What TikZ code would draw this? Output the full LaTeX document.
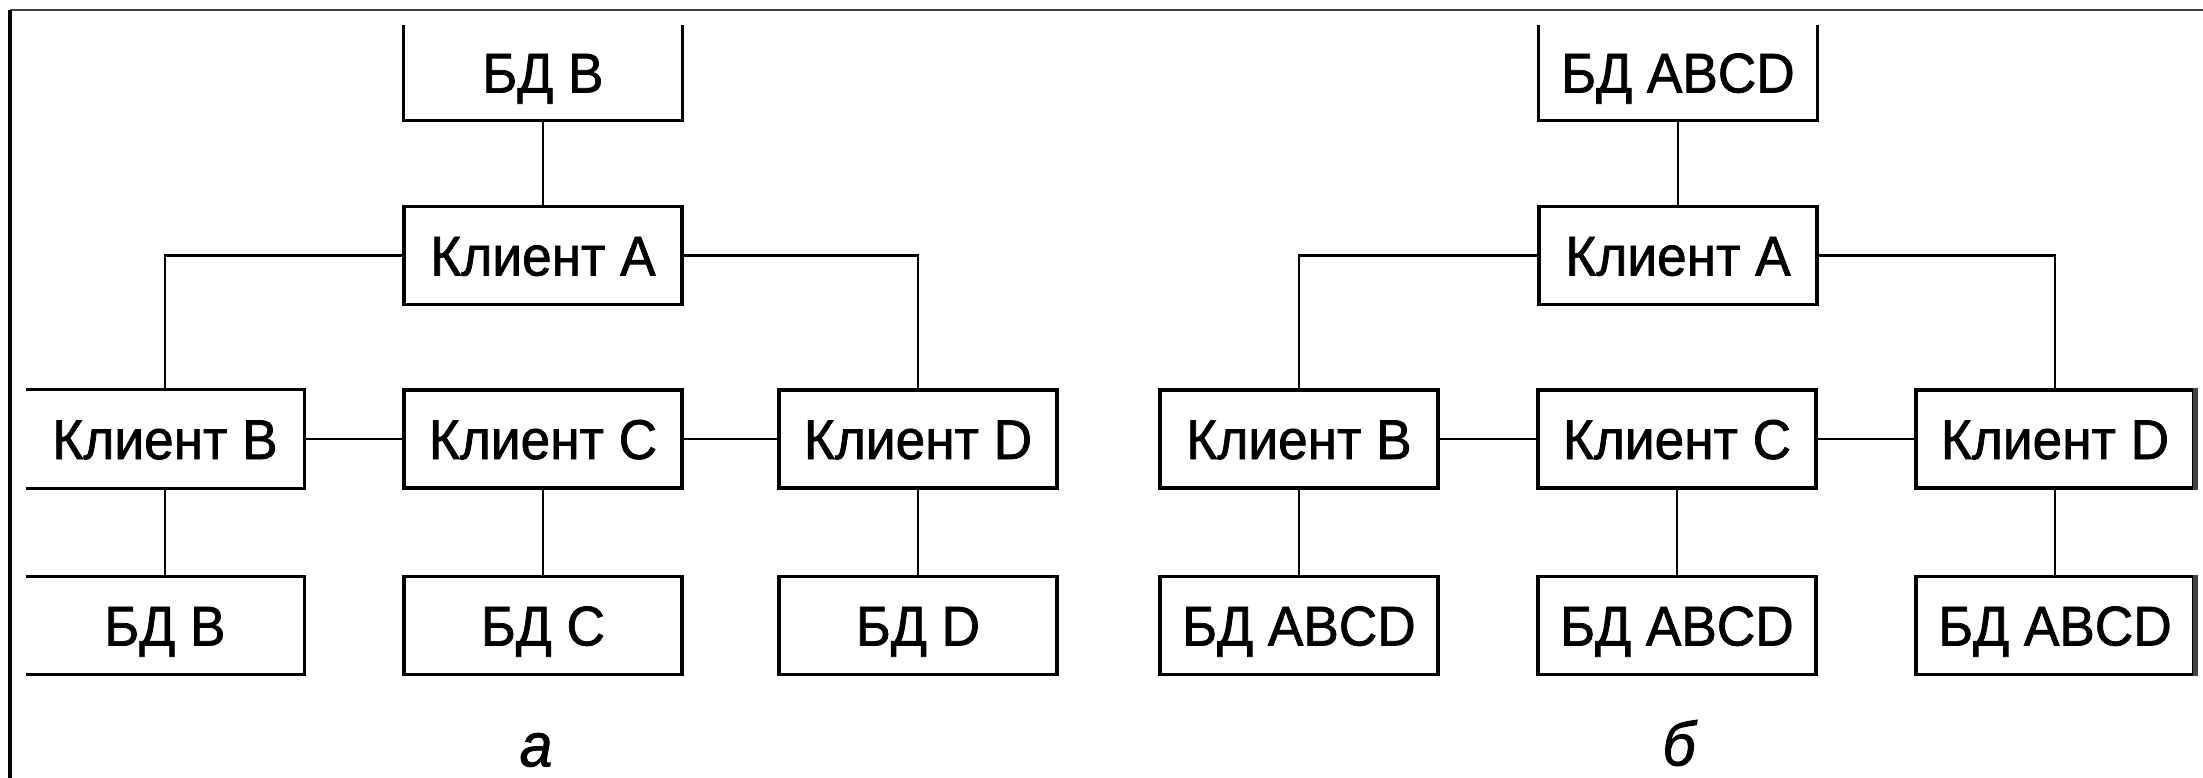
\documentclass[tikz,border=0pt]{standalone}
\usepackage{fontspec}
\setmainfont{Liberation Sans}
\newfontfamily\boxfont{Liberation Sans}[FakeBold=1.3, FakeStretch=0.95]
\begin{document}
\begin{tikzpicture}[x=1pt,y=-1pt,
  box/.style={minimum width=278pt, minimum height=98pt, inner sep=0pt,
    font=\boxfont\fontsize{56}{62}\selectfont, text height=40pt, text depth=0pt},
  fullbox/.style={box, draw, line width=3.1pt},
  side/.style={line width=3.1pt},
  wire/.style={line width=2.8pt},
  lbl/.style={font=\boxfont\fontsize{62}{70}\selectfont\itshape, inner sep=0pt}]
\useasboundingbox (0,0) rectangle (2203,778);
\draw[line width=2.2pt, black!75] (10,10) -- (2203,10);
\draw[line width=3.2pt] (10,10) -- (10,778);

% ---------- a ----------
\node[box, minimum height=95pt] (aDB) at (543,72.5) {БД B};
\draw[side] (aDB.north west) -- (aDB.south west) -- (aDB.south east) -- (aDB.north east);
\node[fullbox] (aA) at (543,255.5) {Клиент A};
\node[box] (aB) at (165,439) {Клиент B};
\draw[side] (aB.north west) -- (aB.north east) -- (aB.south east) -- (aB.south west);
\node[fullbox] (aC) at (543,439) {Клиент C};
\node[fullbox] (aD) at (918,439) {Клиент D};
\node[box] (aDBB) at (165,625.5) {БД B};
\draw[side] (aDBB.north west) -- (aDBB.north east) -- (aDBB.south east) -- (aDBB.south west);
\node[fullbox] (aDBC) at (543,625.5) {БД C};
\node[fullbox] (aDBD) at (918,625.5) {БД D};

\draw[wire] (aDB) -- (aA);
\draw[wire] (aA.west) -| (aB.north);
\draw[wire] (aA.east) -| (aD.north);
\draw[wire] (aB) -- (aC);
\draw[wire] (aC) -- (aD);
\draw[wire] (aB) -- (aDBB);
\draw[wire] (aC) -- (aDBC);
\draw[wire] (aD) -- (aDBD);
\node[lbl] (la) at (536,750) {а};

% ---------- b ----------
\node[box, minimum height=95pt] (bDB) at (1678,72.5) {БД ABCD};
\draw[side] (bDB.north west) -- (bDB.south west) -- (bDB.south east) -- (bDB.north east);
\node[fullbox] (bA) at (1678,255.5) {Клиент A};
\node[fullbox] (bB) at (1299,439) {Клиент B};
\node[fullbox] (bC) at (1677,439) {Клиент C};
\node[fullbox] (bD) at (2055,439) {Клиент D};
\node[fullbox] (bDBB) at (1299,625.5) {БД ABCD};
\node[fullbox] (bDBC) at (1677,625.5) {БД ABCD};
\node[fullbox] (bDBD) at (2055,625.5) {БД ABCD};
\draw[line width=4.5pt, black!75] (bD.north east) -- (bD.south east);
\draw[line width=4.5pt, black!75] (bDBD.north east) -- (bDBD.south east);

\draw[wire] (bDB) -- (bA);
\draw[wire] (bA.west) -| (bB.north);
\draw[wire] (bA.east) -| (bD.north);
\draw[wire] (bB) -- (bC);
\draw[wire] (bC) -- (bD);
\draw[wire] (bB) -- (bDBB);
\draw[wire] (bC) -- (bDBC);
\draw[wire] (bD) -- (bDBD);
\node[lbl] (lb) at (1679,743) {б};
\end{tikzpicture}
\end{document}
